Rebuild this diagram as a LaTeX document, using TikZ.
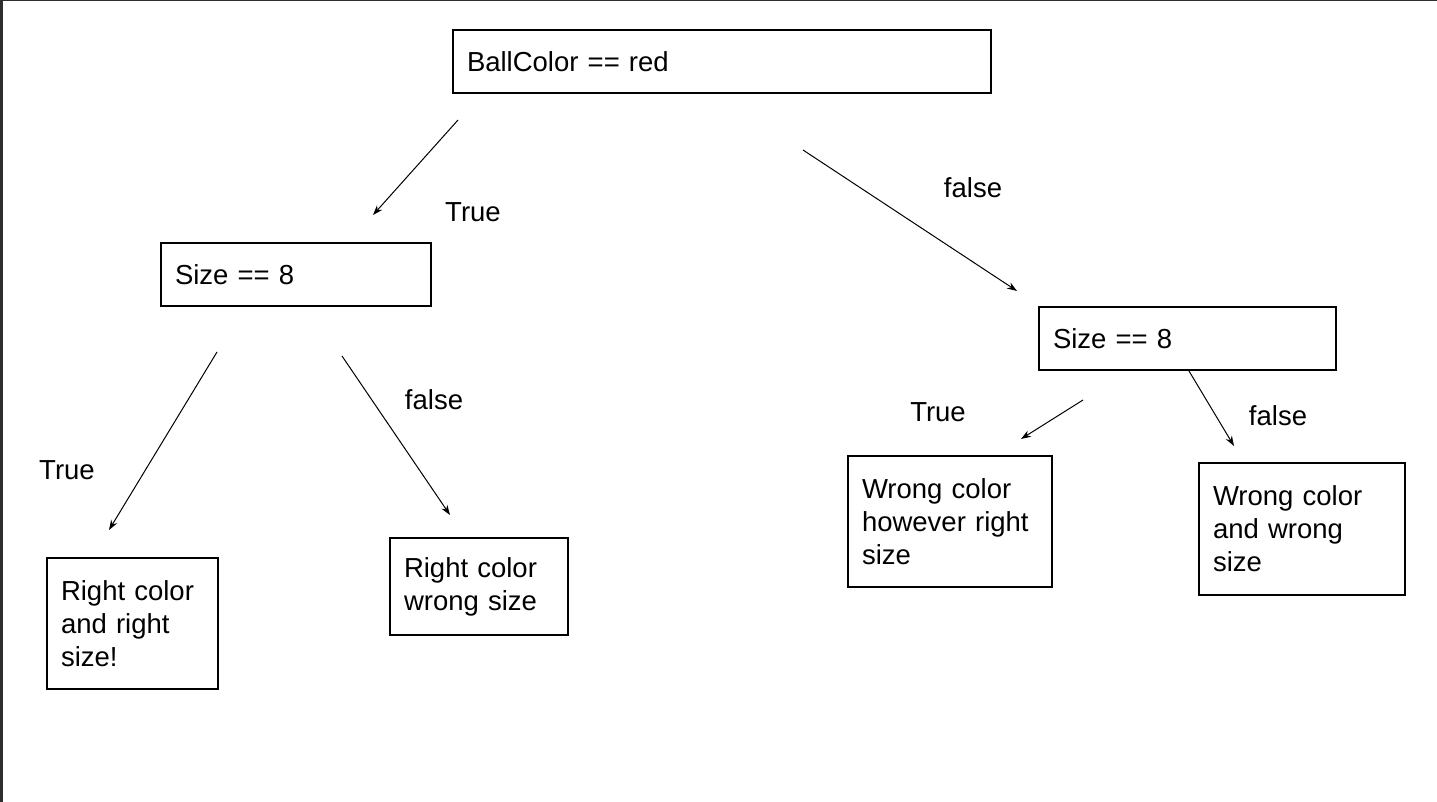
\documentclass[tikz,border=0pt]{standalone}
\usepackage{fontspec}
\setmainfont{Liberation Sans}
\usetikzlibrary{arrows.meta}
\definecolor{frameedge}{HTML}{2E2E2E}
\begin{document}
\begin{tikzpicture}[x=1pt,y=-1pt,
  box/.style={draw=black, line width=2pt, rectangle, anchor=north west,
    align=left, inner xsep=14pt, inner ysep=0pt, outer sep=0pt,
    font=\fontsize{27.5}{33}\selectfont},
  lbl/.style={font=\fontsize{27.5}{33}\selectfont, inner sep=0pt},
  arr/.style={line width=1pt, -{Stealth[length=10pt,width=7pt]}}]
\useasboundingbox (0,0) rectangle (1437,802);
\fill[white] (0,0) rectangle (1437,802);
\fill[frameedge] (0,0) rectangle (3,802);
\fill[frameedge] (0,0) rectangle (1437,1.5);

\node[box, minimum width=538pt, minimum height=63pt, text width=510pt] (root) at (453,30) {BallColor == red};
\node[box, minimum width=270pt, minimum height=63pt, text width=242pt] (sizeL) at (161,243) {Size == 8};
\node[box, minimum width=297pt, minimum height=63pt, text width=269pt] (sizeR) at (1039,307) {Size == 8};
\node[box, minimum width=171pt, minimum height=131pt, text width=143pt] (rr) at (47,558) {Right color\\and right\\size!};
\node[box, minimum width=178pt, minimum height=97pt, text width=150pt] (rw) at (390,538) {Right color\\wrong size};
\node[box, minimum width=204pt, minimum height=131pt, text width=176pt] (wr) at (848,456) {Wrong color\\however right\\size};
\node[box, minimum width=206pt, minimum height=132pt, text width=178pt] (ww) at (1199,463) {Wrong color\\and wrong\\size};

\node[lbl] (t1) at (473,212) {True};
\node[lbl] (f1) at (973,188) {false};
\node[lbl] (t2) at (67,470) {True};
\node[lbl] (f2) at (434,400) {false};
\node[lbl] (t3) at (938,412) {True};
\node[lbl] (f3) at (1278,416) {false};

\coordinate (a1s) at (458,120); \coordinate (a1e) at (373,215);
\coordinate (a2s) at (803,150); \coordinate (a2e) at (1017,291);
\coordinate (a3s) at (217,352); \coordinate (a3e) at (109,530);
\coordinate (a4s) at (342,356); \coordinate (a4e) at (450,515);
\coordinate (a5s) at (1083,400); \coordinate (a5e) at (1021,439);
\coordinate (a6s) at (1189,371); \coordinate (a6e) at (1234,446);

\draw[arr] (a1s) -- (a1e);
\draw[arr] (a2s) -- (a2e);
\draw[arr] (a3s) -- (a3e);
\draw[arr] (a4s) -- (a4e);
\draw[arr] (a5s) -- (a5e);
\draw[arr] (a6s) -- (a6e);
\end{tikzpicture}
\end{document}
